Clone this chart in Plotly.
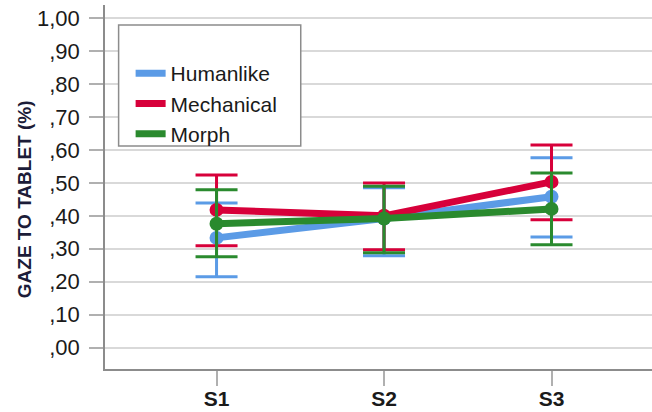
import plotly.graph_objects as go

sessions = ["S1", "S2", "S3"]
groups = ["Humanlike", "Mechanical", "Morph"]
colors = ["#5b9be6", "#d7003a", "#2a8a2e"]

mean_humanlike = [0.333, 0.392, 0.458]
upper_humanlike = [0.439, 0.485, 0.576]
lower_humanlike = [0.215, 0.279, 0.336]

mean_mechanical = [0.418, 0.400, 0.503]
upper_mechanical = [0.524, 0.500, 0.615]
lower_mechanical = [0.309, 0.297, 0.388]

mean_morph = [0.376, 0.392, 0.421]
upper_morph = [0.479, 0.490, 0.530]
lower_morph = [0.276, 0.288, 0.312]

ytick_vals = [0.0, 0.1, 0.2, 0.3, 0.4, 0.5, 0.6, 0.7, 0.8, 0.9, 1.0]
ytick_text = [",00", ",10", ",20", ",30", ",40", ",50", ",60", ",70", ",80", ",90", "1,00"]
y_title = "GAZE TO TABLET (%)"

means = [mean_humanlike, mean_mechanical, mean_morph]
uppers = [upper_humanlike, upper_mechanical, upper_morph]
lowers = [lower_humanlike, lower_mechanical, lower_morph]

FONT = "Arial, Liberation Sans, sans-serif"

fig = go.Figure()
for name, col, m, u, l in zip(groups, colors, means, uppers, lowers):
    fig.add_trace(go.Scatter(
        x=sessions, y=m, mode="lines+markers", name=name, showlegend=False,
        line=dict(color=col, width=7),
        marker=dict(color=col, size=14),
        error_y=dict(type="data", symmetric=False,
                     array=[a - b for a, b in zip(u, m)],
                     arrayminus=[b - c for b, c in zip(m, l)],
                     color=col, thickness=3, width=21),
    ))
for name, col in zip(groups, colors):
    fig.add_trace(go.Scatter(x=[None], y=[None], mode="lines", name=name,
                             line=dict(color=col, width=7)))

W, H = 652, 412
L, R, T, B = 105.4, 0, 5, 43.3
pw, ph = W - L - R, H - T - B

def px_x(p):
    return (p - L) / pw

def px_y(p):
    return 1 - (p - T) / ph

fig.add_shape(type="rect", xref="paper", yref="paper",
              x0=px_x(119), x1=px_x(301), y0=px_y(146), y1=px_y(25),
              line=dict(color="#8c8c8c", width=1.5), fillcolor="white", layer="above")

fig.add_annotation(text="<b>" + y_title + "</b>", xref="paper", yref="paper",
                   x=px_x(25), y=px_y(199.5), xanchor="center", yanchor="middle",
                   textangle=-90, showarrow=False,
                   font=dict(size=19, family=FONT, color="#1c1c38"))

fig.update_layout(
    width=W, height=H,
    margin=dict(l=L, r=R, t=T, b=B, pad=0, autoexpand=False),
    paper_bgcolor="white", plot_bgcolor="white",
    font=dict(family=FONT, color="#1a1a1a"),
    legend=dict(x=px_x(131), y=px_y(53), xanchor="left", yanchor="top",
                bgcolor="rgba(0,0,0,0)", borderwidth=0,
                font=dict(size=21, family=FONT, color="#1a1a1a"),
                tracegroupgap=0, itemwidth=30),
    xaxis=dict(
        range=[-0.666, 2.6], showgrid=False, automargin=False,
        showline=True, linecolor="#8c8c8c", linewidth=1.5,
        ticks="outside", ticklen=15, tickcolor="#b0b0b0", tickwidth=1.5,
        tickfont=dict(size=21, family=FONT, color="#1a1a1a", weight="bold"),
        ticklabelstandoff=-5, zeroline=False,
    ),
    yaxis=dict(
        range=[-0.065, 1.04], automargin=False,
        tickvals=ytick_vals, ticktext=ytick_text,
        showgrid=True, gridcolor="#d9d9d9", gridwidth=1.5,
        showline=True, linecolor="#8c8c8c", linewidth=1.5,
        ticks="outside", ticklen=14, tickcolor="#b0b0b0", tickwidth=1.5,
        tickfont=dict(size=22, family=FONT, color="#1a1a1a"),
        ticklabelstandoff=5, zeroline=False,
    ),
)

fig.write_html("out.html")
